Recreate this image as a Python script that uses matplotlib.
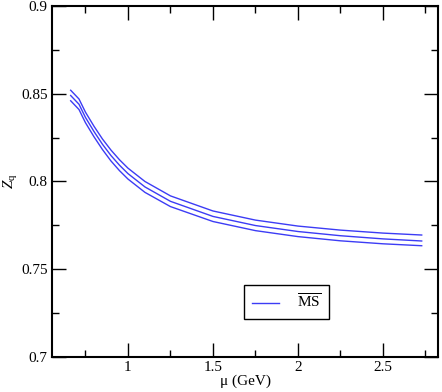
import matplotlib
matplotlib.use('Agg')
import matplotlib.pyplot as plt
from matplotlib.ticker import MultipleLocator

plt.rcParams['font.family'] = ['Liberation Serif', 'DejaVu Serif']
plt.rcParams['mathtext.fontset'] = 'custom'
plt.rcParams['mathtext.rm'] = 'Liberation Serif'
plt.rcParams['mathtext.it'] = 'Liberation Serif:italic'

# renormalisation scale (GeV)
mu = [0.663, 0.712, 0.75, 0.80, 0.85, 0.90, 0.95, 1.00, 1.10, 1.25, 1.50, 1.75, 2.00, 2.25, 2.50, 2.728]
# three Z_q curves (upper, central, lower)
zq_up = [0.852, 0.847, 0.8395, 0.8315, 0.8242, 0.8179, 0.8124, 0.8076, 0.8000, 0.7918, 0.7832, 0.7780, 0.7746, 0.7723, 0.7706, 0.7695]
zq_mid = [0.849, 0.844, 0.8365, 0.8285, 0.8212, 0.8148, 0.8093, 0.8045, 0.7969, 0.7887, 0.7801, 0.7749, 0.7715, 0.7691, 0.7673, 0.7661]
zq_lo = [0.846, 0.841, 0.8335, 0.8255, 0.8182, 0.8117, 0.8062, 0.8014, 0.7938, 0.7857, 0.7772, 0.7720, 0.7686, 0.7662, 0.7645, 0.7634]

fig = plt.figure(figsize=(4.42, 3.92), dpi=100)
ax = fig.add_axes([0.1176, 0.0893, 0.8734, 0.8954])

col = '#3c3cf5'
ax.plot(mu, zq_up, color=col, lw=1.0, label=r'$\overline{\rm MS}$')
ax.plot(mu, zq_mid, color=col, lw=1.0)
ax.plot(mu, zq_lo, color=col, lw=1.0)

ax.set_xlim(0.553, 2.824)
ax.set_ylim(0.7, 0.9)
ax.xaxis.set_minor_locator(MultipleLocator(0.25))
ax.yaxis.set_minor_locator(MultipleLocator(0.025))
ax.set_xticks([1, 1.5, 2, 2.5])
ax.set_xticklabels(['1', '1.5', '2', '2.5'])
ax.set_yticks([0.7, 0.75, 0.8, 0.85, 0.9])
ax.set_yticklabels(['0.7', '0.75', '0.8', '0.85', '0.9'])
ax.tick_params(which='both', direction='in', top=True, right=True, labelsize=11, width=1.0)
ax.tick_params(which='major', length=10, pad=3)
ax.tick_params(which='minor', length=5)
for s in ax.spines.values():
    s.set_linewidth(1.5)

ax.set_xlabel('μ (GeV)', fontsize=11, labelpad=0)
ax.set_ylabel(r'$Z_{\rm q}$', fontsize=11, labelpad=1)

leg = ax.legend(loc='center', bbox_to_anchor=(0.6075, 0.157), fontsize=11,
                fancybox=False, edgecolor='black', framealpha=1,
                handlelength=1.8, handletextpad=1.2, borderpad=0.5, borderaxespad=0)
leg.get_frame().set_linewidth(1.0)

fig.savefig('out.png', dpi=100)
